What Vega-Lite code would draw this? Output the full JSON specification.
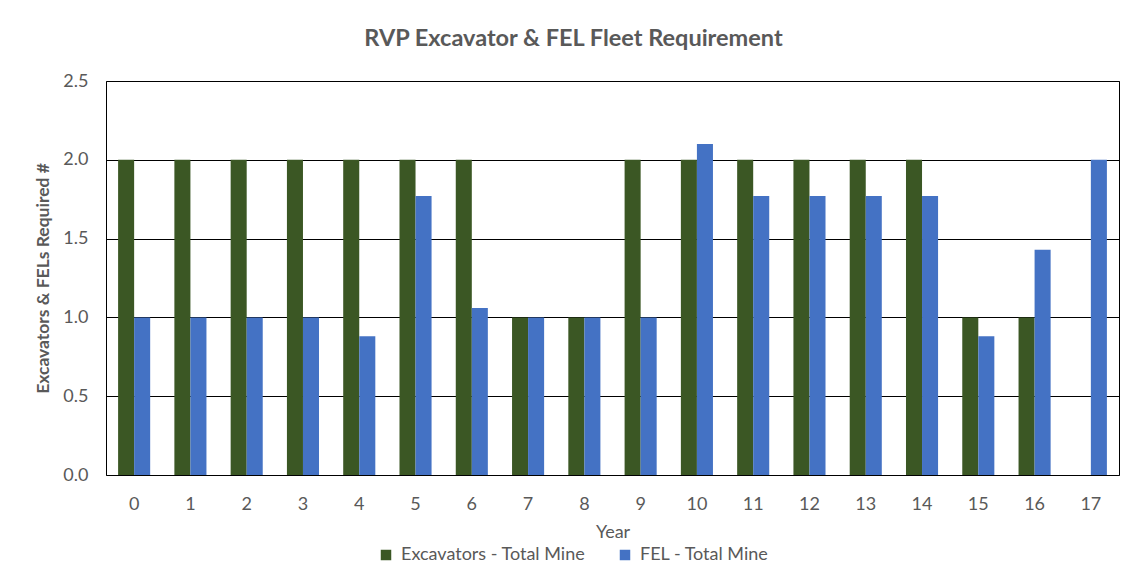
{
  "$schema": "https://vega.github.io/schema/vega-lite/v6.json",
  "width": 1013,
  "height": 394,
  "autosize": {"type": "none"},
  "padding": {"left": 106, "top": 81, "right": 7, "bottom": 103},
  "background": "white",
  "config": {
    "font": "Lato",
    "view": {"stroke": "black", "strokeWidth": 1},
    "axis": {"labelColor": "#595959", "titleColor": "#595959", "labelFont": "Lato", "titleFont": "Lato"}
  },
  "title": {
    "text": "RVP Excavator & FEL Fleet Requirement",
    "fontSize": 23.5,
    "fontWeight": "bold",
    "color": "#595959",
    "font": "Lato",
    "anchor": "middle",
    "dx": -39,
    "offset": 22
  },
  "data": {
    "values": [
      {"year": 0, "series": "Excavators - Total Mine", "value": 2},
      {"year": 0, "series": "FEL - Total Mine", "value": 1.0},
      {"year": 1, "series": "Excavators - Total Mine", "value": 2},
      {"year": 1, "series": "FEL - Total Mine", "value": 1.0},
      {"year": 2, "series": "Excavators - Total Mine", "value": 2},
      {"year": 2, "series": "FEL - Total Mine", "value": 1.0},
      {"year": 3, "series": "Excavators - Total Mine", "value": 2},
      {"year": 3, "series": "FEL - Total Mine", "value": 1.0},
      {"year": 4, "series": "Excavators - Total Mine", "value": 2},
      {"year": 4, "series": "FEL - Total Mine", "value": 0.88},
      {"year": 5, "series": "Excavators - Total Mine", "value": 2},
      {"year": 5, "series": "FEL - Total Mine", "value": 1.77},
      {"year": 6, "series": "Excavators - Total Mine", "value": 2},
      {"year": 6, "series": "FEL - Total Mine", "value": 1.06},
      {"year": 7, "series": "Excavators - Total Mine", "value": 1},
      {"year": 7, "series": "FEL - Total Mine", "value": 1.0},
      {"year": 8, "series": "Excavators - Total Mine", "value": 1},
      {"year": 8, "series": "FEL - Total Mine", "value": 1.0},
      {"year": 9, "series": "Excavators - Total Mine", "value": 2},
      {"year": 9, "series": "FEL - Total Mine", "value": 1.0},
      {"year": 10, "series": "Excavators - Total Mine", "value": 2},
      {"year": 10, "series": "FEL - Total Mine", "value": 2.1},
      {"year": 11, "series": "Excavators - Total Mine", "value": 2},
      {"year": 11, "series": "FEL - Total Mine", "value": 1.77},
      {"year": 12, "series": "Excavators - Total Mine", "value": 2},
      {"year": 12, "series": "FEL - Total Mine", "value": 1.77},
      {"year": 13, "series": "Excavators - Total Mine", "value": 2},
      {"year": 13, "series": "FEL - Total Mine", "value": 1.77},
      {"year": 14, "series": "Excavators - Total Mine", "value": 2},
      {"year": 14, "series": "FEL - Total Mine", "value": 1.77},
      {"year": 15, "series": "Excavators - Total Mine", "value": 1},
      {"year": 15, "series": "FEL - Total Mine", "value": 0.88},
      {"year": 16, "series": "Excavators - Total Mine", "value": 1},
      {"year": 16, "series": "FEL - Total Mine", "value": 1.43},
      {"year": 17, "series": "FEL - Total Mine", "value": 2.0}
    ]
  },
  "mark": {"type": "bar"},
  "encoding": {
    "x": {
      "field": "year",
      "type": "ordinal",
      "scale": {"paddingInner": 0.43, "paddingOuter": 0.215},
      "axis": {
        "title": "Year",
        "labelAngle": 0,
        "labelFontSize": 18,
        "labelPadding": 20,
        "ticks": false,
        "domain": false,
        "grid": false,
        "titleFontSize": 18,
        "titleFontWeight": "normal",
        "titlePadding": 10
      }
    },
    "xOffset": {"field": "series", "type": "nominal", "scale": {"paddingInner": 0, "paddingOuter": 0}},
    "y": {
      "field": "value",
      "type": "quantitative",
      "scale": {"domain": [0, 2.5], "nice": false},
      "axis": {
        "title": "Excavators & FELs  Required #",
        "values": [0, 0.5, 1, 1.5, 2, 2.5],
        "format": ".1f",
        "labelFontSize": 18,
        "labelPadding": 18,
        "ticks": false,
        "domain": false,
        "grid": true,
        "gridColor": "black",
        "gridOpacity": 1,
        "gridWidth": 1,
        "titleFontSize": 17.5,
        "titleFontWeight": "bold",
        "titlePadding": 10
      }
    },
    "color": {
      "field": "series",
      "type": "nominal",
      "scale": {"domain": ["Excavators - Total Mine", "FEL - Total Mine"], "range": ["#3b5724", "#4472c4"]},
      "legend": {
        "title": null,
        "orient": "none",
        "direction": "horizontal",
        "legendX": 271,
        "legendY": 465,
        "symbolType": "square",
        "symbolSize": 110,
        "symbolStrokeWidth": 0,
        "labelFontSize": 18,
        "labelLimit": 400,
        "labelColor": "#595959",
        "labelFont": "Lato",
        "columnPadding": 30,
        "labelOffset": 6
      }
    }
  }
}
